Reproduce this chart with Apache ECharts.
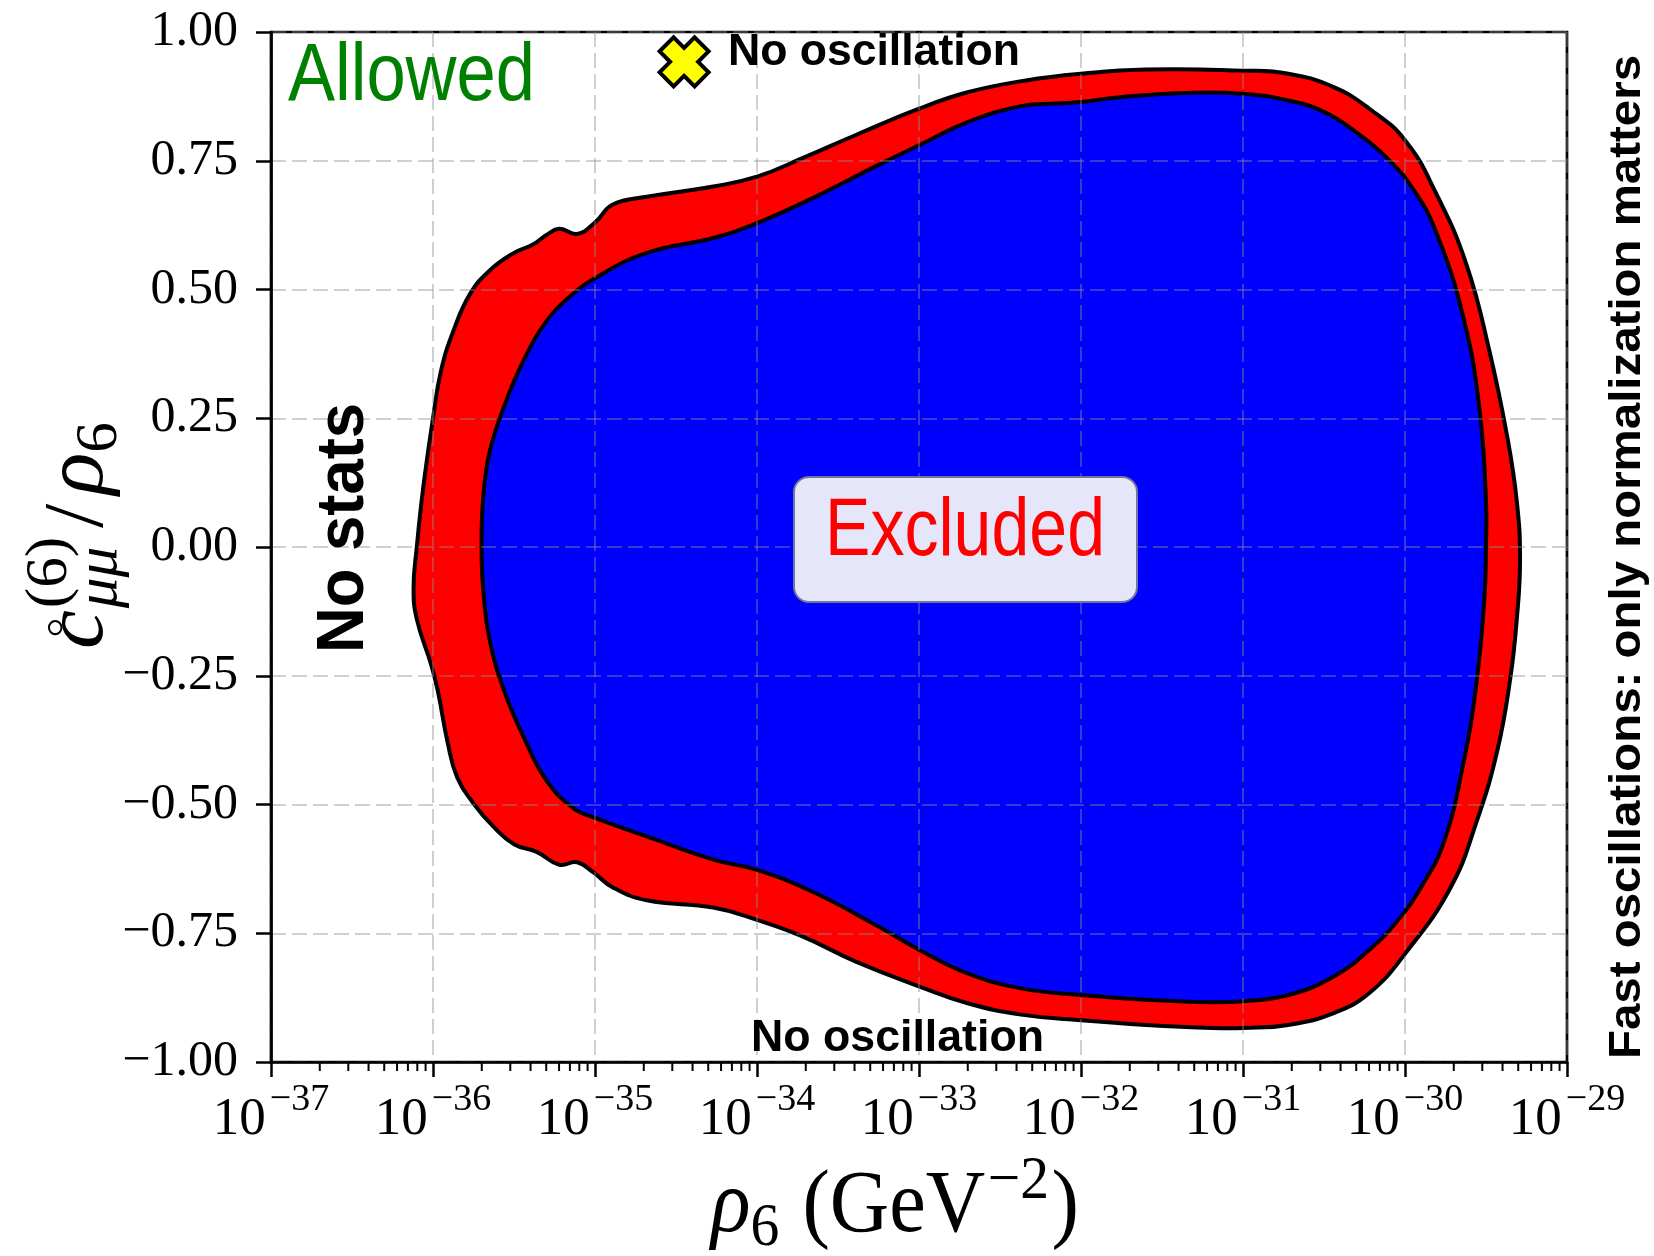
<!DOCTYPE html>
<html>
<head>
<meta charset="utf-8">
<script src="https://cdn.jsdelivr.net/npm/echarts@6/dist/echarts.min.js"></script>
<style>
  html, body { margin: 0; padding: 0; background: #fff; }
  #chart { width: 1654px; height: 1256px; }
</style>
</head>
<body>
<div id="chart"></div>
<script>
// Decade exponents of rho_6 (GeV^-2) shown on the log axis, and the y ticks.
const xTickExponents = [-37, -36, -35, -34, -33, -32, -31, -30, -29];
const yTickValues = [-1, -0.75, -0.5, -0.25, 0, 0.25, 0.5, 0.75, 1];

// Outer (red) exclusion contour: log10(rho_6) and c_mumu/rho_6
const outerLogRho = [-36.10, -36.12, -36.10, -36.06, -36.00, -35.95, -35.87, -35.77, -35.65, -35.50,
  -35.38, -35.30, -35.22, -35.11, -35.00, -34.89, -34.68, -34.27, -34.00, -33.72,
  -33.39, -33.00, -32.70, -32.34, -32.00, -31.60, -31.00, -30.72, -30.44, -30.22,
  -30.00, -29.81, -29.62, -29.48, -29.37, -29.31, -29.29, -29.31, -29.35, -29.43,
  -29.56, -29.72, -30.00, -30.22, -30.44, -30.72, -31.00, -31.19, -31.60, -32.00,
  -32.37, -32.70, -33.00, -33.39, -33.72, -34.00, -34.27, -34.68, -34.89, -35.01,
  -35.11, -35.22, -35.36, -35.50, -35.63, -35.75, -35.85, -35.91, -35.97, -36.01];
const outerC = [-0.14, -0.08, 0.00, 0.116, 0.25, 0.343, 0.423, 0.492, 0.537, 0.571,
  0.588, 0.606, 0.618, 0.608, 0.63, 0.665, 0.68, 0.70, 0.719, 0.755,
  0.80, 0.851, 0.883, 0.906, 0.919, 0.927, 0.925, 0.919, 0.893, 0.851,
  0.79, 0.688, 0.548, 0.382, 0.216, 0.089, -0.025, -0.14, -0.255, -0.395,
  -0.535, -0.662, -0.79, -0.866, -0.905, -0.928, -0.934, -0.934, -0.928, -0.919,
  -0.908, -0.886, -0.853, -0.805, -0.756, -0.724, -0.70, -0.686, -0.661, -0.632,
  -0.612, -0.617, -0.592, -0.577, -0.542, -0.498, -0.448, -0.379, -0.28, -0.23];

// Inner (blue) exclusion contour
const innerLogRho = [-35.69, -35.70, -35.69, -35.65, -35.56, -35.44, -35.30, -35.17, -35.00, -34.68,
  -34.27, -34.00, -33.66, -33.25, -33.00, -32.70, -32.37, -32.15, -32.00, -31.74,
  -31.32, -31.00, -30.72, -30.50, -30.30, -30.12, -29.95, -29.81, -29.64, -29.54,
  -29.50, -29.50, -29.51, -29.56, -29.64, -29.76, -29.90, -30.05, -30.22, -30.44,
  -30.72, -31.00, -31.19, -31.60, -32.00, -32.37, -32.70, -33.00, -33.25, -33.66,
  -34.00, -34.27, -34.68, -35.00, -35.13, -35.30, -35.44, -35.56, -35.65];
const innerC = [-0.082, 0.0, 0.096, 0.185, 0.274, 0.363, 0.438, 0.482, 0.522, 0.571,
  0.60, 0.629, 0.677, 0.742, 0.78, 0.825, 0.856, 0.861, 0.864, 0.874,
  0.882, 0.880, 0.867, 0.845, 0.805, 0.758, 0.695, 0.613, 0.446, 0.267,
  0.089, 0.0, -0.10, -0.267, -0.42, -0.573, -0.66, -0.727, -0.782, -0.834,
  -0.87, -0.882, -0.884, -0.879, -0.87, -0.857, -0.828, -0.782, -0.737, -0.669,
  -0.627, -0.607, -0.562, -0.526, -0.508, -0.453, -0.369, -0.28, -0.181];

// "No oscillation" reference point: [log10(rho_6), c_mumu/rho_6]
const noOscillationPoint = [-34.45, 0.942];

const SERIF = '"Liberation Serif", "DejaVu Serif", serif';
const SANS = '"Liberation Sans", "DejaVu Sans", Arial, sans-serif';
const GRID_COLOR = 'rgba(140,140,140,0.55)';
const MID = 0.345; // em-box middle above the baseline
const TEXT_Z = 100;

const measureCtx = document.createElement('canvas').getContext('2d');
function fontOf(size, family, italic, bold) {
  return (italic ? 'italic ' : '') + (bold ? 'bold ' : '') + size + 'px ' + family;
}
function measure(text, font) {
  measureCtx.font = font;
  return measureCtx.measureText(text).width;
}
function textStyle(text, size, family, italic, bold, fill) {
  return {
    text: text, fontSize: size, fontFamily: family,
    fontStyle: italic ? 'italic' : 'normal', fontWeight: bold ? 'bold' : 'normal',
    fill: fill || '#000', align: 'left', verticalAlign: 'middle'
  };
}

// A single line of text starting at (x, baseline y), stretched to a given length.
function textLine(text, o) {
  const natural = measure(text, fontOf(o.size, o.family, o.italic, o.bold));
  const sx = o.length ? o.length / natural : 1;
  return {
    type: 'group', x: o.x, y: o.y, rotation: o.rotation || 0, scaleX: sx, z: TEXT_Z,
    children: [{
      type: 'text', x: 0, y: -MID * o.size, z: TEXT_Z,
      style: textStyle(text, o.size, o.family, o.italic, o.bold, o.fill)
    }]
  };
}

// A math-like run of text pieces with sub/superscripts, starting at (x, baseline y).
function mathLine(runs, o) {
  const F = o.size;
  const children = [];
  let cx = 0;
  runs.forEach(function (run) {
    if (run.gap) cx += run.gap * F;
    const items = run.stack || [run];
    let adv = 0;
    items.forEach(function (it) {
      const size = F * (it.k || 1);
      const w = measure(it.t, fontOf(size, SERIF, it.italic, false));
      children.push({
        type: 'text', x: cx, y: (it.dy || 0) * F - MID * size, z: TEXT_Z,
        style: textStyle(it.t, size, SERIF, it.italic, false, '#000')
      });
      if (it.ring) {
        children.push({
          type: 'circle', z: TEXT_Z,
          shape: { cx: cx + w * 0.55, cy: -0.64 * F, r: 0.075 * F },
          style: { fill: 'none', stroke: '#000', lineWidth: 2 }
        });
      }
      adv = Math.max(adv, w);
    });
    cx += adv;
  });
  const sx = o.length ? o.length / cx : 1;
  return { type: 'group', x: o.x, y: o.y, rotation: o.rotation || 0, scaleX: sx, z: TEXT_Z, children: children };
}

// Filled "X" marker outline
const xMarkerPath = (function () {
  const a = 0.2, L = 0.5;
  const pts = [[-a, -L], [a, -L], [a, -a], [L, -a], [L, a], [a, a], [a, L], [-a, L], [-a, a], [-L, a], [-L, -a], [-a, -a]];
  const rot = pts.map(function (p) { return [(p[0] - p[1]) / Math.SQRT2, (p[0] + p[1]) / Math.SQRT2]; });
  return 'path://' + rot.map(function (p, i) {
    return (i ? 'L' : 'M') + (p[0] * 100).toFixed(2) + ' ' + (p[1] * 100).toFixed(2);
  }).join(' ') + ' Z';
})();

// Minor ticks of the log axis at 2..9 within each decade
const minorTickX = [];
xTickExponents.slice(0, -1).forEach(function (e) {
  for (let k = 2; k <= 9; k++) minorTickX.push(e + Math.log10(k));
});

function contourSeries(name, xs, ys, fill, z) {
  return {
    type: 'custom', name: name, z: z, coordinateSystem: 'cartesian2d', silent: true,
    data: xs.map(function (x, i) { return [x, ys[i]]; }),
    encode: { x: 0, y: 1 },
    renderItem: function (params, api) {
      if (params.dataIndex !== 0) return null;
      const points = xs.map(function (x, i) { return api.coord([x, ys[i]]); });
      return {
        type: 'polygon',
        shape: { points: points, smooth: 0.45 },
        style: { fill: fill, stroke: '#000', lineWidth: 4, lineJoin: 'round' }
      };
    }
  };
}

const chart = echarts.init(document.getElementById('chart'), null, { renderer: 'canvas' });

const option = {
  animation: false,
  backgroundColor: '#fff',
  grid: {
    left: 271, top: 32, right: 87, bottom: 194,
    show: true, borderColor: '#000', borderWidth: 2.7, backgroundColor: 'transparent',
    containLabel: false, outerBoundsMode: 'none'
  },
  xAxis: {
    type: 'value', position: 'bottom', z: 5,
    min: xTickExponents[0], max: xTickExponents[xTickExponents.length - 1], interval: 1,
    axisLine: { show: true, onZero: false, lineStyle: { color: '#000', width: 2.7 } },
    axisTick: { show: true, length: 15, lineStyle: { color: '#000', width: 2.5 } },
    axisLabel: {
      show: true, margin: 19, showMinLabel: true, showMaxLabel: true,
      formatter: function (v) { return '{b|10}{s|\u2212' + Math.abs(Math.round(v)) + '}'; },
      rich: {
        b: { fontSize: 53, fontFamily: SERIF, color: '#000', lineHeight: 66, verticalAlign: 'bottom' },
        s: { fontSize: 38, fontFamily: SERIF, color: '#000', lineHeight: 38, verticalAlign: 'top', padding: [0, 0, 0, 4] }
      }
    },
    splitLine: { show: true, lineStyle: { color: GRID_COLOR, width: 1.5, type: [15, 6] } }
  },
  yAxis: {
    type: 'value', position: 'left', z: 5,
    min: yTickValues[0], max: yTickValues[yTickValues.length - 1], interval: 0.25,
    axisLine: { show: true, onZero: false, lineStyle: { color: '#000', width: 2.7 } },
    axisTick: { show: true, length: 15, lineStyle: { color: '#000', width: 2.5 } },
    axisLabel: {
      show: true, margin: 33, showMinLabel: true, showMaxLabel: true,
      fontSize: 50, fontFamily: SERIF, color: '#000',
      formatter: function (v) { return (v < 0 ? '\u2212' : '') + Math.abs(v).toFixed(2); }
    },
    splitLine: { show: true, lineStyle: { color: GRID_COLOR, width: 1.5, type: [15, 6] } }
  },
  series: [
    contourSeries('outer', outerLogRho, outerC, '#ff0000', 2),
    contourSeries('inner', innerLogRho, innerC, '#0000ff', 3),
    {
      type: 'custom', name: 'minorTicks', z: 6, clip: false, silent: true,
      data: minorTickX.map(function (x) { return [x, yTickValues[0]]; }),
      encode: { x: 0, y: 1 },
      renderItem: function (params, api) {
        const p = api.coord([api.value(0), api.value(1)]);
        return { type: 'line', shape: { x1: p[0], y1: p[1], x2: p[0], y2: p[1] + 9 }, style: { stroke: '#000', lineWidth: 2 } };
      }
    },
    {
      type: 'scatter', name: 'No oscillation', z: 20, silent: true,
      data: [noOscillationPoint],
      symbol: xMarkerPath, symbolSize: 49,
      itemStyle: { color: '#ffff00', borderColor: '#000', borderWidth: 4, opacity: 1 }
    }
  ],
  graphic: {
    elements: [
      textLine('Allowed', { x: 288, y: 106, size: 82, family: SANS, fill: '#008000', length: 247 }),
      {
        type: 'rect', z: 90,
        shape: { x: 794, y: 477, width: 343, height: 125, r: 15 },
        style: { fill: '#e6e6fa', stroke: '#75759a', lineWidth: 2 }
      },
      textLine('Excluded', { x: 825, y: 561, size: 81, family: SANS, fill: '#ff0000', length: 280 }),
      textLine('No oscillation', { x: 728, y: 68, size: 44, family: SANS, bold: true, length: 292 }),
      textLine('No oscillation', { x: 751, y: 1054, size: 44, family: SANS, bold: true, length: 293 }),
      textLine('No stats', { x: 368, y: 653, size: 67, family: SANS, bold: true, length: 250, rotation: Math.PI / 2 }),
      textLine('Fast oscillations: only normalization matters',
        { x: 1643, y: 1059, size: 45, family: SANS, bold: true, length: 1004, rotation: Math.PI / 2 }),
      mathLine([
        { t: '\u03C1', italic: true },
        { t: '6', k: 0.7, dy: 0.14 },
        { t: '(GeV', gap: 0.28 },
        { t: '\u22122', k: 0.7, dy: -0.4, gap: 0.03 },
        { t: ')', gap: 0.03 }
      ], { x: 711, y: 1238, size: 88, length: 368 }),
      mathLine([
        { t: 'c', italic: true, ring: true },
        { stack: [{ t: '(6)', k: 0.7, dy: -0.45 }, { t: '\u03BC\u03BC', k: 0.7, italic: true, dy: 0.14 }], gap: 0.02 },
        { t: '/', gap: 0.1 },
        { t: '\u03C1', italic: true, gap: 0.1 },
        { t: '6', k: 0.7, dy: 0.14 }
      ], { x: 109, y: 649, size: 84, length: 227, rotation: Math.PI / 2 })
    ]
  }
};

chart.setOption(option);
</script>
</body>
</html>
